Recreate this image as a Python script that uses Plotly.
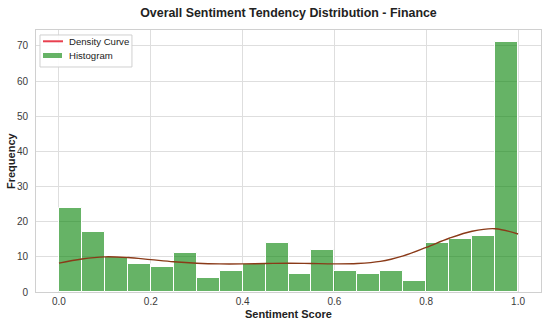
import plotly.graph_objects as go

# Histogram data (20 bins over [0, 1])
bin_left_edges = [0.00, 0.05, 0.10, 0.15, 0.20, 0.25, 0.30, 0.35, 0.40, 0.45,
                  0.50, 0.55, 0.60, 0.65, 0.70, 0.75, 0.80, 0.85, 0.90, 0.95]
bin_width = 0.05
counts = [24, 17, 10, 8, 7, 11, 4, 6, 8, 14,
          5, 12, 6, 5, 6, 3, 14, 15, 16, 71]

# Density curve (scaled to counts)
kde_x = [0.00, 0.05, 0.10, 0.15, 0.20, 0.25, 0.30, 0.35, 0.40, 0.45, 0.50,
         0.55, 0.60, 0.65, 0.70, 0.75, 0.80, 0.85, 0.90, 0.95, 1.00]
kde_y = [8.2, 9.4, 10.0, 9.8, 9.2, 8.6, 8.2, 8.0, 8.0, 8.1, 8.2,
         8.1, 8.0, 8.1, 8.7, 10.3, 12.7, 15.3, 17.3, 18.0, 16.5]

x_ticks = [0.0, 0.2, 0.4, 0.6, 0.8, 1.0]
y_ticks = [0, 10, 20, 30, 40, 50, 60, 70]
legend_labels = ["Density Curve", "Histogram"]

BAR_COLOR = "rgba(0,128,0,0.6)"
CURVE_COLOR = "#8a3a18"
LEGEND_LINE_COLOR = "#e8404f"
FONT = "Liberation Sans, Arial, sans-serif"

centers = [e + bin_width / 2 for e in bin_left_edges]

fig = go.Figure()
fig.add_trace(go.Bar(
    x=centers, y=counts, width=[bin_width] * len(counts),
    marker=dict(color=BAR_COLOR, line=dict(color="white", width=1)),
    name=legend_labels[1], showlegend=False,
))
fig.add_trace(go.Scatter(
    x=kde_x, y=kde_y, mode="lines", line=dict(color=CURVE_COLOR, width=1.4, shape="spline"),
    name=legend_labels[0], showlegend=False, hoverinfo="skip",
))

axis_common = dict(
    showgrid=True, gridcolor="#dedede", gridwidth=1,
    showline=True, linecolor="#d0d0d0", linewidth=1, mirror=True,
    zeroline=False, ticks="", automargin=False,
    tickfont=dict(family=FONT, size=10, color="#3a3a3a"),
)

fig.update_layout(
    width=550, height=324,
    margin=dict(l=36, r=9, t=30, b=32),
    paper_bgcolor="white", plot_bgcolor="white",
    bargap=0, barmode="overlay",
    font=dict(family=FONT, color="#222"),
    showlegend=False,
    title=dict(
        text="<b>Overall Sentiment Tendency Distribution - Finance</b>",
        xref="paper", x=0.5, xanchor="center", y=1 - 12.5 / 324, yanchor="middle",
        font=dict(size=12.4, color="#222"),
    ),
    xaxis=dict(range=[-0.05, 1.05], tickvals=x_ticks, tickformat=".1f",
               ticklabelstandoff=0, **axis_common),
    yaxis=dict(range=[0, 74.55], tickvals=y_ticks, ticklabelstandoff=5, **axis_common),
)

# Axis titles
fig.add_annotation(text="<b>Sentiment Score</b>", xref="paper", yref="paper", x=0.5, y=0,
                   xanchor="center", yanchor="middle", yshift=-22, showarrow=False,
                   font=dict(size=11, color="#222"))
fig.add_annotation(text="<b>Frequency</b>", xref="paper", yref="paper", x=0, y=0.5,
                   xanchor="center", yanchor="middle", xshift=-25, textangle=-90,
                   showarrow=False, font=dict(size=11, color="#222"))

# Legend (drawn manually to match compact spacing)
fig.add_shape(type="rect", xref="paper", yref="paper", x0=0.0079, x1=0.190, y0=0.8588, y1=0.981,
              fillcolor="rgba(255,255,255,0.9)", line=dict(color="#d0d0d0", width=1), layer="above")
fig.add_shape(type="line", xref="paper", yref="paper", x0=0.0139, x1=0.0535, y0=0.9569, y1=0.9569,
              line=dict(color=LEGEND_LINE_COLOR, width=2), layer="above")
fig.add_shape(type="rect", xref="paper", yref="paper", x0=0.0139, x1=0.0515, y0=0.8931, y1=0.9122,
              fillcolor=BAR_COLOR, line=dict(width=0), layer="above")
fig.add_annotation(text=legend_labels[0], xref="paper", yref="paper", x=0.061, y=0.9569,
                   xanchor="left", yanchor="middle", showarrow=False,
                   font=dict(size=9.6, color="#222"))
fig.add_annotation(text=legend_labels[1], xref="paper", yref="paper", x=0.061, y=0.9027,
                   xanchor="left", yanchor="middle", showarrow=False,
                   font=dict(size=9.6, color="#222"))

fig.write_html("out.html", config={"displayModeBar": False},
               post_script="document.body.style.margin='0px';")
